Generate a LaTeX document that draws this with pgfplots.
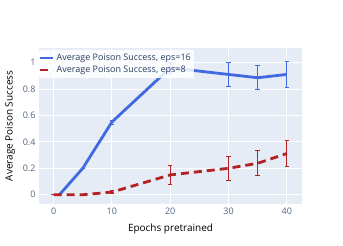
\documentclass[border=0pt]{standalone}
\usepackage{fontspec}
\setmainfont{Open Sans}
\usepackage{pgfplots}
\pgfplotsset{compat=1.18}
\definecolor{bgc}{HTML}{E5ECF6}
\definecolor{tickc}{HTML}{506784}
\definecolor{labc}{HTML}{2A3F5F}
\definecolor{blueL}{HTML}{4169E1}
\definecolor{redL}{HTML}{B22222}
\begin{document}
\begin{tikzpicture}[x=1pt,y=1pt]
\path[use as bounding box] (0,0) rectangle (343,246);
\begin{axis}[at={(39pt,42pt)}, anchor=south west, scale only axis,
 width=263pt, height=156pt,
 xmin=-2.5, xmax=42.6, ymin=-0.07, ymax=1.11,
 axis background/.style={fill=bgc},
 axis line style={draw=none},
 grid=major, major grid style={white, line width=0.9pt},
 tick style={draw=none},
 xtick={0,10,20,30,40}, ytick={0,0.2,0.4,0.6,0.8,1},
 yticklabels={0,0.2,0.4,0.6,0.8,1},
 xticklabels={0,10,20,30,40},
 tick label style={font=\fontsize{9}{10}\selectfont, text=tickc},
 /pgf/number format/assume math mode=true,
 xlabel={Epochs pretrained}, ylabel={Average Poison Success},
 label style={font=\fontsize{11}{12}\selectfont, text=labc},
 every axis y label/.style={at={(axis description cs:-0.11,0.5)}, rotate=90, anchor=center},
 every axis x label/.style={at={(axis description cs:0.5,-0.16)}, anchor=center},
 legend style={at={(axis description cs:-0.005,0.988)}, anchor=north west,
   fill=white, fill opacity=0.85, text opacity=1, draw=none,
   font=\fontsize{9}{10.5}\selectfont, text=labc, row sep=0.5pt,
   inner sep=1.5pt},
 legend cell align=left,
 legend image code/.code={\draw[#1, line width=2.2pt] (0pt,0pt) -- (13pt,0pt);},
 clip=false,
]
\addplot[blueL, line width=2.8pt, line join=round,
  error bars/.cd, y dir=both, y explicit,
  error bar style={blueL, line width=1pt},
  error mark options={blueL, rotate=90, mark size=2.2pt, line width=1pt}]
 table[x=x, y=y, y error=e] {
 x y e
 1 0 0
 5 0.2 0
 10 0.55 0.015
 20 0.96 0.04
 30 0.91 0.092
 35 0.885 0.092
 40 0.91 0.1
 };
\addlegendentry{Average Poison Success, eps=16}
\addplot[redL, line width=2.8pt, dash pattern=on 8pt off 5pt,
  error bars/.cd, y dir=both, y explicit,
  error bar style={redL, line width=1pt, solid},
  error mark options={redL, rotate=90, mark size=2.2pt, line width=1pt, solid}]
 table[x=x, y=y, y error=e] {
 x y e
 0 0 0
 5 0 0
 10 0.02 0.01
 20 0.15 0.073
 30 0.2 0.092
 35 0.238 0.095
 40 0.312 0.1
 };
\addlegendentry{Average Poison Success, eps=8}
\end{axis}
\end{tikzpicture}
\end{document}
